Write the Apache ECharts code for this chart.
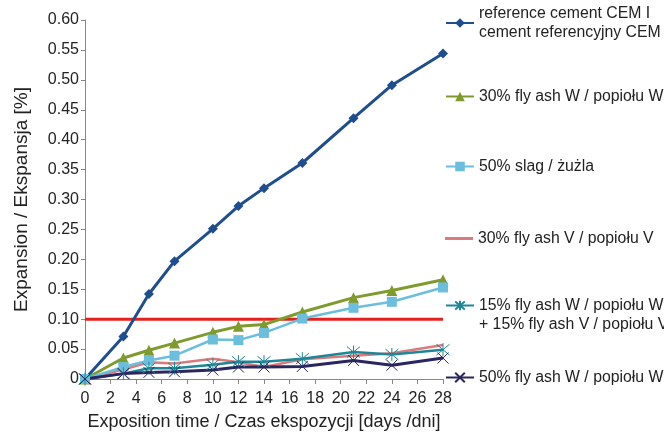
<!DOCTYPE html>
<html>
<head>
<meta charset="utf-8">
<script src="https://cdn.jsdelivr.net/npm/echarts@6/dist/echarts.min.js"></script>
<style>
  html, body { margin: 0; padding: 0; background: #ffffff; }
  #chart { width: 664px; height: 436px; }
</style>
</head>
<body>
<div id="chart"></div>
<script>
// Exposure time in days
const days = [0, 3, 5, 7, 10, 12, 14, 17, 21, 24, 28];

// Expansion [%] for each mix
const refCement   = [0, 0.071, 0.142, 0.197, 0.251, 0.289, 0.319, 0.361, 0.436, 0.491, 0.544];
const flyAshW30   = [0, 0.035, 0.048, 0.060, 0.078, 0.088, 0.091, 0.112, 0.136, 0.148, 0.166];
const slag50      = [0, 0.020, 0.031, 0.039, 0.066, 0.065, 0.077, 0.101, 0.119, 0.129, 0.153];
const flyAshV30   = [0, 0.016, 0.028, 0.026, 0.034, 0.028, 0.020, 0.033, 0.039, 0.043, 0.057];
const mixWV15     = [0, 0.009, 0.018, 0.018, 0.024, 0.029, 0.029, 0.034, 0.045, 0.041, 0.049];
const flyAshW50   = [0, 0.009, 0.011, 0.012, 0.015, 0.020, 0.020, 0.021, 0.031, 0.023, 0.035];

// Expansion limit
const limitValue = 0.10;

const names = {
  ref:  'reference cement CEM I\ncement referencyjny CEM I',
  w30:  '30% fly ash W / popiołu W',
  slag: '50% slag / żużla',
  v30:  '30% fly ash V / popiołu V',
  wv:   '15% fly ash W / popiołu W\n+ 15% fly ash V / popiołu V',
  w50:  '50% fly ash W / popiołu W'
};

const pairs = vals => days.map((d, i) => [d, vals[i]]);

const FONT = 'Liberation Sans, Arial, sans-serif';
const TEXT = '#222';
const asteriskPath = 'path://M0,0L10,10M10,0L0,10M5,-1L5,11';
const crossPath = 'path://M0,0L10,10M10,0L0,10';

const chart = echarts.init(document.getElementById('chart'), null, { renderer: 'canvas' });

const legendText = { fontFamily: FONT, fontSize: 15.8, color: TEXT, lineHeight: 19 };

function legendAt(name, top, extra) {
  return Object.assign({
    data: [name],
    orient: 'vertical',
    left: 445,
    top: top,
    itemWidth: 28,
    itemHeight: 12,
    padding: 0,
    selectedMode: false,
    textStyle: legendText
  }, extra || {});
}

const option = {
  backgroundColor: '#ffffff',
  animation: false,
  grid: { left: 85, right: 221, top: 20, bottom: 53 },
  legend: [
    legendAt(names.ref, 4),
    legendAt(names.w30, 87),
    legendAt(names.slag, 157),
    legendAt(names.v30, 229, { icon: 'rect', itemHeight: 3 }),
    // first text line sits level with the marker, the second hangs below it
    legendAt(names.wv, 277, { formatter: n => ' \n' + n }),
    legendAt(names.w50, 368)
  ],
  xAxis: {
    type: 'value',
    min: 0,
    max: 28,
    interval: 2,
    name: 'Exposition time / Czas ekspozycji [days /dni]',
    nameLocation: 'middle',
    nameGap: 34,
    nameTextStyle: { fontFamily: FONT, fontSize: 18, color: TEXT },
    axisLine: { lineStyle: { color: '#8c8580', width: 1 } },
    axisTick: { show: true, length: 5, lineStyle: { color: '#8c8580' } },
    axisLabel: { fontFamily: FONT, fontSize: 16, color: TEXT, margin: 12 },
    splitLine: { show: false }
  },
  yAxis: {
    type: 'value',
    min: 0,
    max: 0.6,
    interval: 0.05,
    name: 'Expansion / Ekspansja [%]',
    nameLocation: 'middle',
    nameGap: 54,
    nameTextStyle: { fontFamily: FONT, fontSize: 19, color: TEXT },
    axisLine: { show: true, lineStyle: { color: '#8c8580', width: 1 } },
    axisTick: { show: true, length: 4, lineStyle: { color: '#8c8580' } },
    axisLabel: {
      fontFamily: FONT, fontSize: 16, color: TEXT, margin: 6,
      formatter: v => (v === 0 ? '0' : v.toFixed(2))
    },
    splitLine: { show: false }
  },
  series: [
    {
      name: 'limit',
      type: 'line',
      data: [[0, limitValue], [28, limitValue]],
      symbol: 'none',
      lineStyle: { color: '#e3201b', width: 3 },
      z: 1,
      silent: true
    },
    {
      name: names.ref,
      type: 'line',
      data: pairs(refCement),
      symbol: 'diamond',
      symbolSize: 10,
      color: '#1f4e8f',
      lineStyle: { width: 3 },
      z: 3
    },
    {
      name: names.w30,
      type: 'line',
      data: pairs(flyAshW30),
      symbol: 'triangle',
      symbolSize: 11,
      color: '#7f9a2d',
      lineStyle: { width: 3 },
      z: 3
    },
    {
      name: names.slag,
      type: 'line',
      data: pairs(slag50),
      symbol: 'rect',
      symbolSize: 10,
      color: '#6cbfdc',
      lineStyle: { width: 2.5 },
      z: 3
    },
    {
      name: names.v30,
      type: 'line',
      data: pairs(flyAshV30),
      symbol: 'none',
      color: '#d97a7c',
      lineStyle: { width: 2.5 },
      z: 2
    },
    {
      name: names.wv,
      type: 'line',
      data: pairs(mixWV15),
      symbol: asteriskPath,
      symbolSize: 13,
      color: '#1d8797',
      itemStyle: { borderColor: '#1d8797', borderWidth: 1 },
      lineStyle: { width: 2.5 },
      z: 3
    },
    {
      name: names.w50,
      type: 'line',
      data: pairs(flyAshW50),
      symbol: crossPath,
      symbolSize: 11,
      color: '#2a2660',
      itemStyle: { borderColor: '#2a2660', borderWidth: 1 },
      lineStyle: { width: 3 },
      z: 3
    }
  ]
};

chart.setOption(option);
</script>
</body>
</html>
